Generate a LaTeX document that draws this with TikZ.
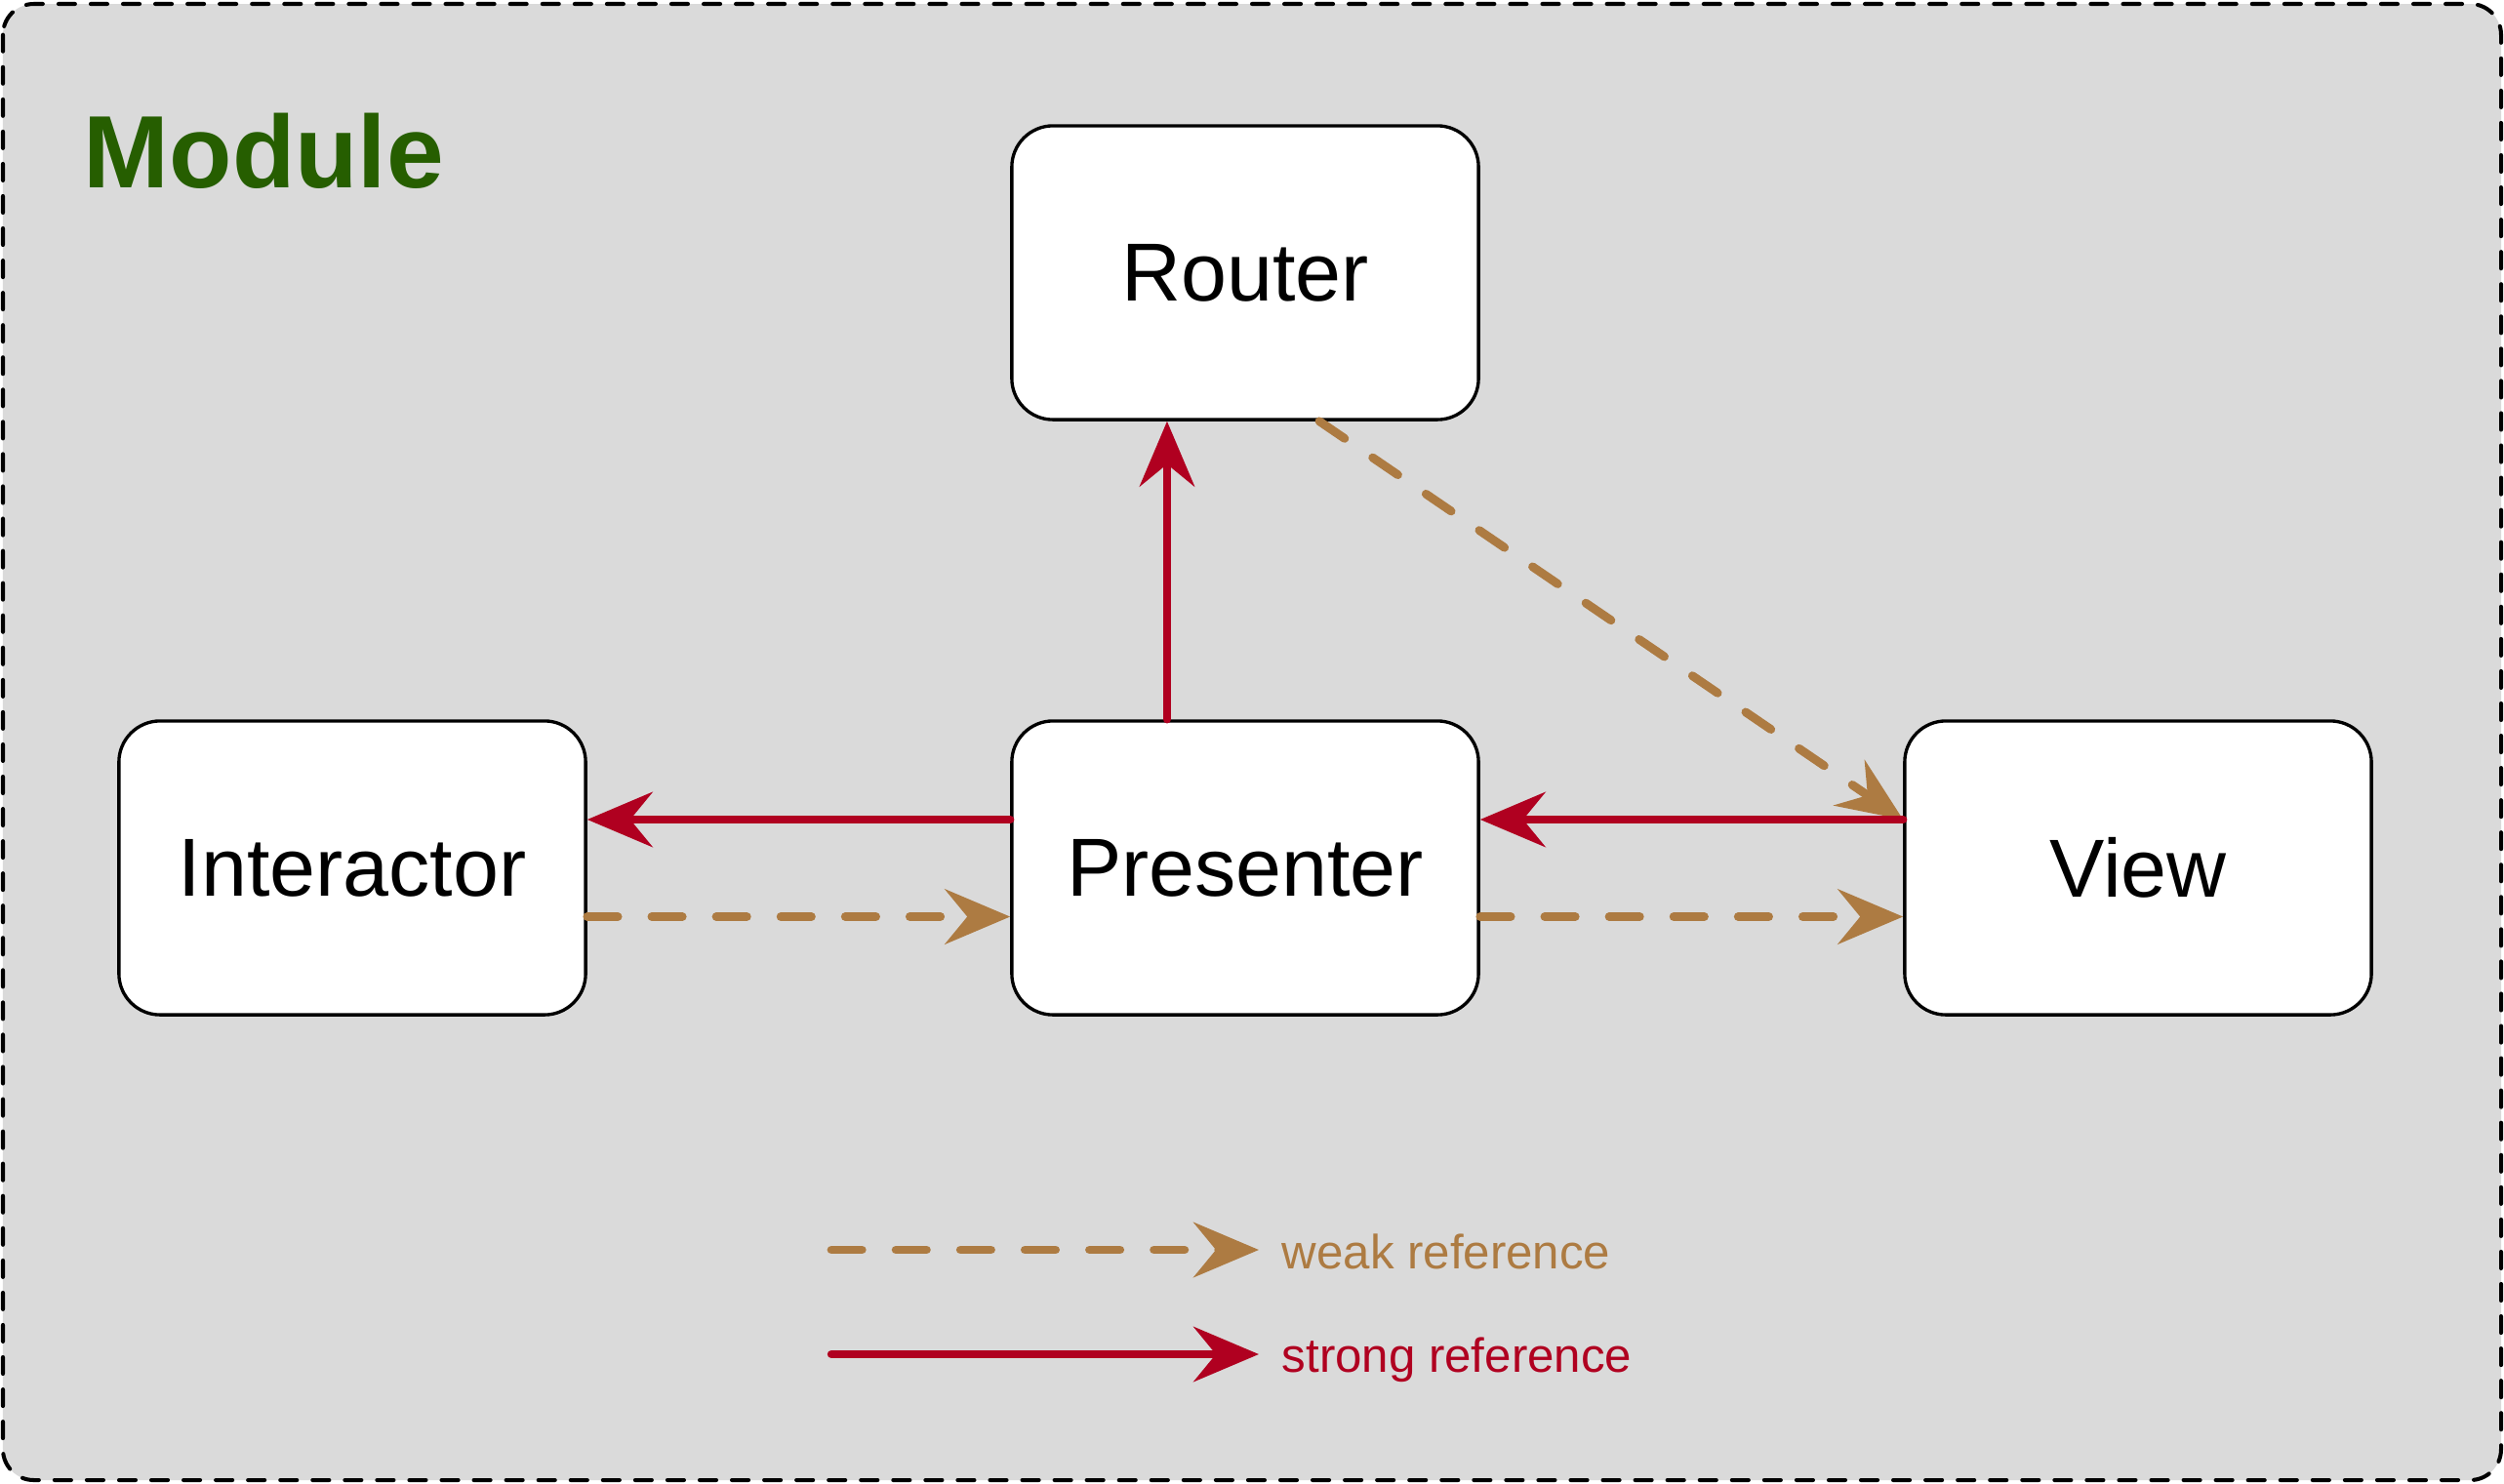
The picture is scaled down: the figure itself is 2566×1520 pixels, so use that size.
\documentclass[tikz,border=0pt]{standalone}
\usepackage{fontspec}
\setmainfont{Liberation Sans}
\usetikzlibrary{arrows.meta}
\definecolor{bggray}{RGB}{218,218,218}
\definecolor{weakc}{RGB}{173,123,66}
\definecolor{strongc}{RGB}{176,0,32}
\definecolor{modgreen}{RGB}{38,94,0}
\tikzset{
  box/.style={draw=black, line width=0.95pt, fill=white, rounded corners=12pt,
    minimum width=4.78cm, minimum height=3.01cm, inner sep=0pt,
    font=\fontsize{24}{28}\selectfont},
  tipstyle/.style={-{Stealth[length=19pt,width=16pt,inset=6.5pt]}},
  strongarrow/.style={draw=strongc, line width=2.4pt, line cap=round, tipstyle},
  weakarrow/.style={draw=weakc, line width=2.5pt, line cap=round,
    dash pattern=on 8.9pt off 9.9pt, tipstyle},
  legendtext/.style={anchor=base west, inner sep=0pt, font=\fontsize{14}{17}\selectfont},
}
\begin{document}
\begin{tikzpicture}[x=0.01cm, y=-0.01cm]
\useasboundingbox (0,0) rectangle (2566,1520);
\draw[fill=bggray, draw=black, line width=1.15pt, line cap=round,
  dash pattern=on 4.85pt off 4.55pt, rounded corners=9pt] (3,4) rectangle (2563,1517);
\node[anchor=base west, inner sep=0pt, text=modgreen,
  font=\bfseries\fontsize{30}{36}\selectfont] (title) at (85,192) {Module};

\node[box] (router) at (1276,279.5) {Router};
\node[box] (inter) at (361,889.5) {Interactor};
\node[box] (pres) at (1276,889.5) {Presenter};
\node[box] (view) at (2191,889.5) {View};

\draw[strongarrow] ([xshift=-0.8cm]pres.north) -- ([xshift=-0.8cm]router.south);
\draw[weakarrow] ([xshift=0.76cm]router.south) -- ([yshift=0.495cm]view.west);
\draw[strongarrow] ([yshift=0.495cm]view.west) -- ([yshift=0.495cm]pres.east);
\draw[strongarrow] ([yshift=0.495cm]pres.west) -- ([yshift=0.495cm]inter.east);
\draw[weakarrow] ([yshift=-0.5cm]inter.east) -- ([yshift=-0.5cm]pres.west);
\draw[weakarrow] ([yshift=-0.5cm]pres.east) -- ([yshift=-0.5cm]view.west);

\coordinate (w1) at (852,1281);
\coordinate (w2) at (1290,1281);
\coordinate (s1) at (852,1388);
\coordinate (s2) at (1290,1388);
\draw[weakarrow] (w1) -- (w2);
\draw[strongarrow] (s1) -- (s2);
\node[legendtext, text=weakc] (weaklbl) at (1313,1300) {weak reference};
\node[legendtext, text=strongc] (stronglbl) at (1313,1406) {strong reference};
\end{tikzpicture}
\end{document}
